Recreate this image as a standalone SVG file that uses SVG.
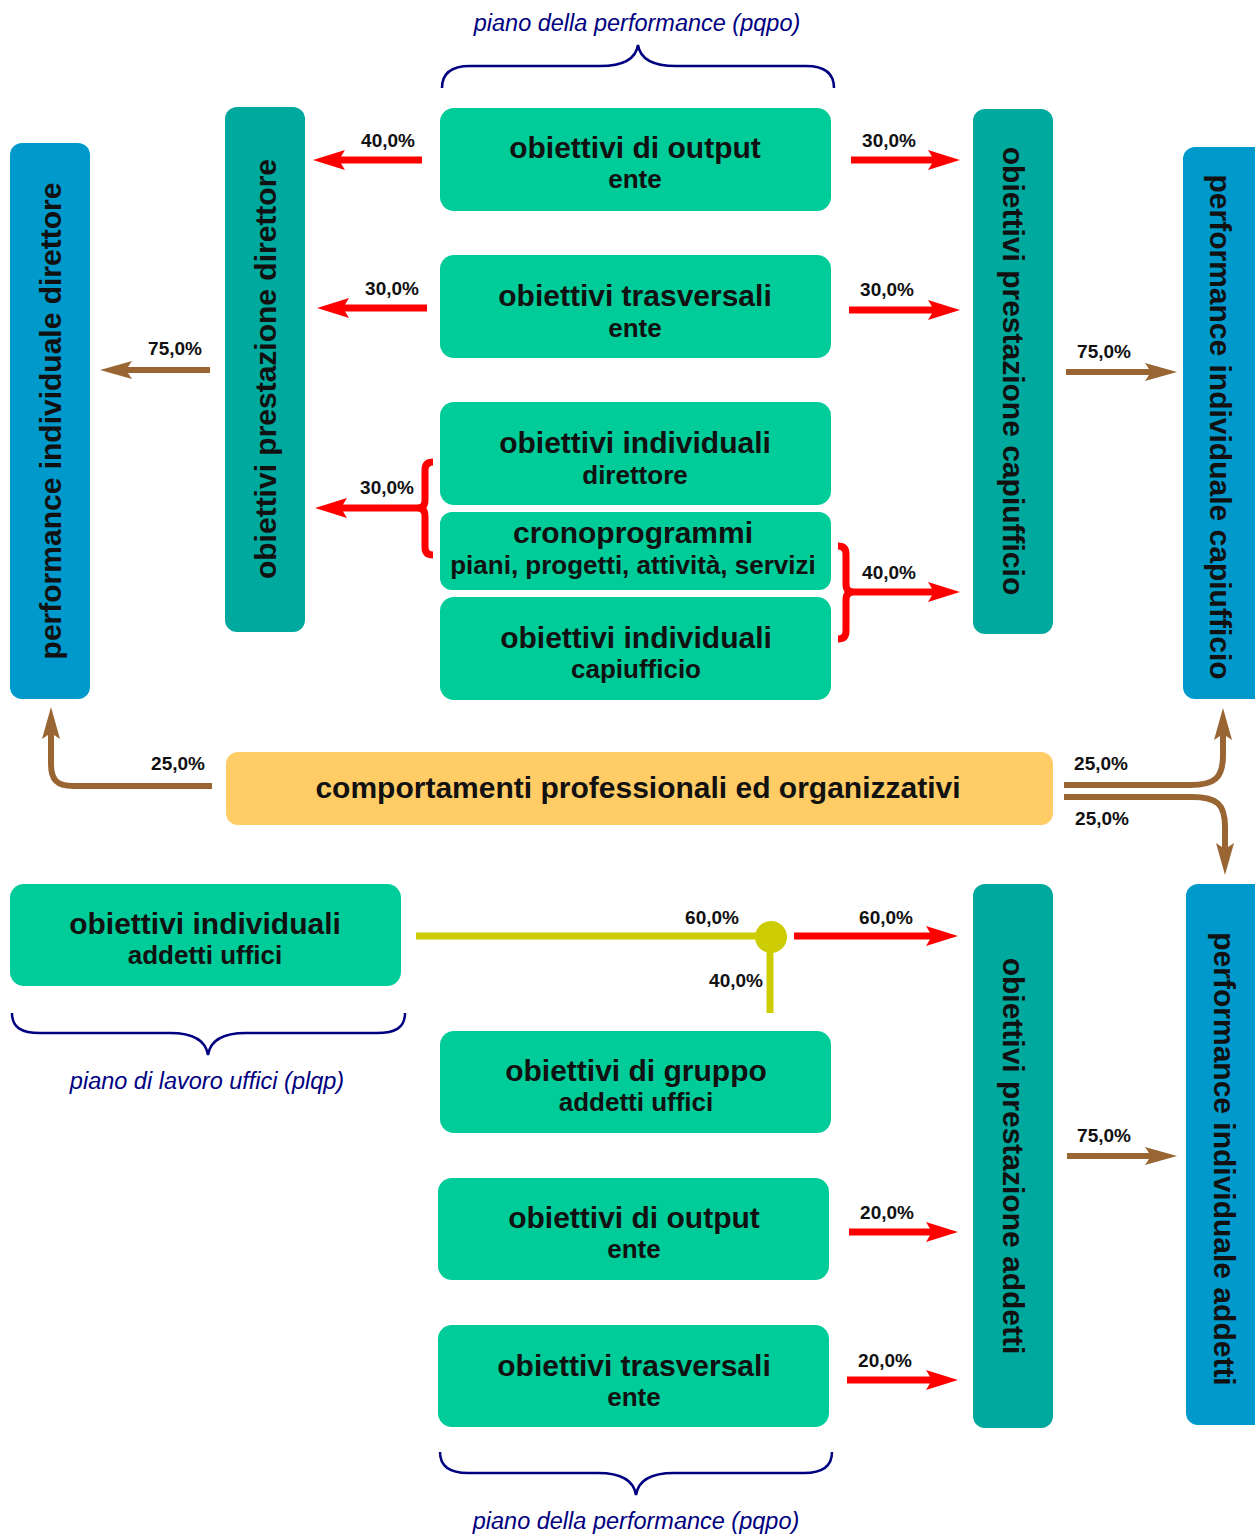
<svg xmlns="http://www.w3.org/2000/svg" width="1255" height="1535" viewBox="0 0 1255 1535">
<style>
.g{fill:#00CC99}
.tl{fill:#00A99D}
.bl{fill:#0099CC}
.or{fill:#FFCC66}
.t{font-family:"Liberation Sans",Arial,sans-serif;font-weight:bold;font-size:30px;fill:#111;text-anchor:middle}
.s{font-family:"Liberation Sans",Arial,sans-serif;font-weight:bold;font-size:26px;fill:#111;text-anchor:middle}
.p{font-family:"Liberation Sans",Arial,sans-serif;font-weight:bold;font-size:19px;fill:#111;text-anchor:middle}
.i{font-family:"Liberation Sans",Arial,sans-serif;font-style:italic;font-size:23.5px;fill:#000080;text-anchor:middle}
.red{fill:none;stroke:#FF0000;stroke-width:7}
.br{fill:none;stroke:#996633;stroke-width:6}
.ye{fill:none;stroke:#CCCC00;stroke-width:7}
.nv{fill:none;stroke:#000080;stroke-width:2.5}
</style>
<defs>
<marker id="ar" markerUnits="userSpaceOnUse" viewBox="0 0 32 20" markerWidth="32" markerHeight="20" refX="10" refY="10" orient="auto" overflow="visible"><path d="M32 10 L0 0 L6 10 L0 20 Z" fill="#FF0000"/></marker>
<marker id="ab" markerUnits="userSpaceOnUse" viewBox="0 0 32 20" markerWidth="32" markerHeight="20" refX="10" refY="10" orient="auto" overflow="visible"><path d="M32 10 L0 1 L6 10 L0 19 Z" fill="#996633"/></marker>
</defs>

<g id="n-perf-direttore"><rect class="bl" x="10" y="143" width="80" height="556" rx="12"/><text class="t" transform="translate(61,421) rotate(-90)">performance individuale direttore</text></g>
<g id="n-prest-direttore"><rect class="tl" x="225" y="107" width="80" height="525" rx="12"/><text class="t" transform="translate(276,369) rotate(-90)">obiettivi prestazione direttore</text></g>
<g id="n-output1"><rect class="g" x="440" y="108" width="391" height="103" rx="14"/><text class="t" x="635" y="158">obiettivi di output</text><text class="s" x="635" y="188">ente</text></g>
<g id="n-trasv1"><rect class="g" x="440" y="255" width="391" height="103" rx="14"/><text class="t" x="635" y="306">obiettivi trasversali</text><text class="s" x="635" y="337">ente</text></g>
<g id="n-ind-direttore"><rect class="g" x="440" y="402" width="391" height="103" rx="14"/><text class="t" x="635" y="453">obiettivi individuali</text><text class="s" x="635" y="484">direttore</text></g>
<g id="n-crono"><rect class="g" x="440" y="512" width="391" height="78" rx="12"/><text class="t" x="633" y="543">cronoprogrammi</text><text class="s" x="633" y="574">piani, progetti, attività, servizi</text></g>
<g id="n-ind-capiufficio"><rect class="g" x="440" y="597" width="391" height="103" rx="14"/><text class="t" x="636" y="648">obiettivi individuali</text><text class="s" x="636" y="678">capiufficio</text></g>
<g id="n-prest-capiufficio"><rect class="tl" x="973" y="109" width="80" height="525" rx="12"/><text class="t" transform="translate(1003,371) rotate(90)">obiettivi prestazione capiufficio</text></g>
<g id="n-perf-capiufficio"><rect class="bl" x="1183" y="147" width="100" height="552" rx="12"/><text class="t" transform="translate(1210,427) rotate(90)">performance individuale capiufficio</text></g>
<g id="n-comportamenti"><rect class="or" x="226" y="752" width="827" height="73" rx="12"/><text class="t" x="638" y="798">comportamenti professionali ed organizzativi</text></g>
<g id="n-ind-addetti"><rect class="g" x="10" y="884" width="391" height="102" rx="14"/><text class="t" x="205" y="934">obiettivi individuali</text><text class="s" x="205" y="964">addetti uffici</text></g>
<g id="n-gruppo"><rect class="g" x="440" y="1031" width="391" height="102" rx="14"/><text class="t" x="636" y="1081">obiettivi di gruppo</text><text class="s" x="636" y="1111">addetti uffici</text></g>
<g id="n-output2"><rect class="g" x="438" y="1178" width="391" height="102" rx="14"/><text class="t" x="634" y="1228">obiettivi di output</text><text class="s" x="634" y="1258">ente</text></g>
<g id="n-trasv2"><rect class="g" x="438" y="1325" width="391" height="102" rx="14"/><text class="t" x="634" y="1376">obiettivi trasversali</text><text class="s" x="634" y="1406">ente</text></g>
<g id="n-prest-addetti"><rect class="tl" x="973" y="884" width="80" height="544" rx="12"/><text class="t" transform="translate(1003,1156) rotate(90)">obiettivi prestazione addetti</text></g>
<g id="n-perf-addetti"><rect class="bl" x="1186" y="884" width="100" height="541" rx="12"/><text class="t" transform="translate(1214,1159) rotate(90)">performance individuale addetti</text></g>

<g id="annotations">
<path class="nv" d="M442,88 C442,73 452,66 470,66 L600,66 C625,66 636,58 638,45 C640,58 651,66 676,66 L806,66 C824,66 834,73 834,88"/>
<text class="i" x="637" y="31">piano della performance (pqpo)</text>
<path class="nv" d="M12,1013 C12,1028 22,1033 40,1033 L170,1033 C195,1033 206,1042 208,1055 C210,1042 221,1033 246,1033 L377,1033 C395,1033 405,1028 405,1013"/>
<text class="i" x="207" y="1089">piano di lavoro uffici (plqp)</text>
<path class="nv" d="M440,1452 C440,1467 450,1473 468,1473 L598,1473 C623,1473 634,1482 636,1495 C638,1482 649,1473 674,1473 L804,1473 C822,1473 832,1467 832,1452"/>
<text class="i" x="636" y="1529">piano della performance (pqpo)</text>
</g>

<g id="connectors">
<path class="red" d="M422,160 H335" marker-end="url(#ar)"/>
<path class="red" d="M427,308 H339" marker-end="url(#ar)"/>
<path class="red" d="M433,462 Q425,462 425,470 L425,500 Q425,508 418,508 Q425,508 425,516 L425,547 Q425,555 433,555"/>
<path class="red" d="M420,508 H337" marker-end="url(#ar)"/>
<path class="red" d="M851,160 H938" marker-end="url(#ar)"/>
<path class="red" d="M849,310 H938" marker-end="url(#ar)"/>
<path class="red" d="M838,546 Q846,546 846,554 L846,584 Q846,592 853,592 Q846,592 846,600 L846,631 Q846,639 838,639"/>
<path class="red" d="M851,592 H938" marker-end="url(#ar)"/>
<path class="red" d="M794,936 H936" marker-end="url(#ar)"/>
<path class="red" d="M849,1232 H936" marker-end="url(#ar)"/>
<path class="red" d="M847,1380 H936" marker-end="url(#ar)"/>

<path class="br" d="M210,370 H122" marker-end="url(#ab)"/>
<path class="br" d="M1066,372 H1155" marker-end="url(#ab)"/>
<path class="br" d="M1067,1156 H1155" marker-end="url(#ab)"/>
<path class="br" d="M212,786 H73 C57,786 51,780 51,764 V729" marker-end="url(#ab)"/>
<path class="br" d="M1064,785 H1190 C1215,785 1223,778 1223,755 V730" marker-end="url(#ab)"/>
<path class="br" d="M1064,797 H1192 C1217,797 1225,804 1225,827 V853" marker-end="url(#ab)"/>

<path class="ye" d="M416,936 H770"/>
<path class="ye" d="M770,937 V1013"/>
<circle cx="771" cy="937" r="16" fill="#CCCC00"/>

<text class="p" x="388" y="147">40,0%</text>
<text class="p" x="392" y="295">30,0%</text>
<text class="p" x="387" y="494">30,0%</text>
<text class="p" x="889" y="147">30,0%</text>
<text class="p" x="887" y="296">30,0%</text>
<text class="p" x="889" y="579">40,0%</text>
<text class="p" x="175" y="355">75,0%</text>
<text class="p" x="1104" y="358">75,0%</text>
<text class="p" x="178" y="770">25,0%</text>
<text class="p" x="1101" y="770">25,0%</text>
<text class="p" x="1102" y="825">25,0%</text>
<text class="p" x="712" y="924">60,0%</text>
<text class="p" x="886" y="924">60,0%</text>
<text class="p" x="736" y="987">40,0%</text>
<text class="p" x="1104" y="1142">75,0%</text>
<text class="p" x="887" y="1219">20,0%</text>
<text class="p" x="885" y="1367">20,0%</text>
</g>
</svg>
